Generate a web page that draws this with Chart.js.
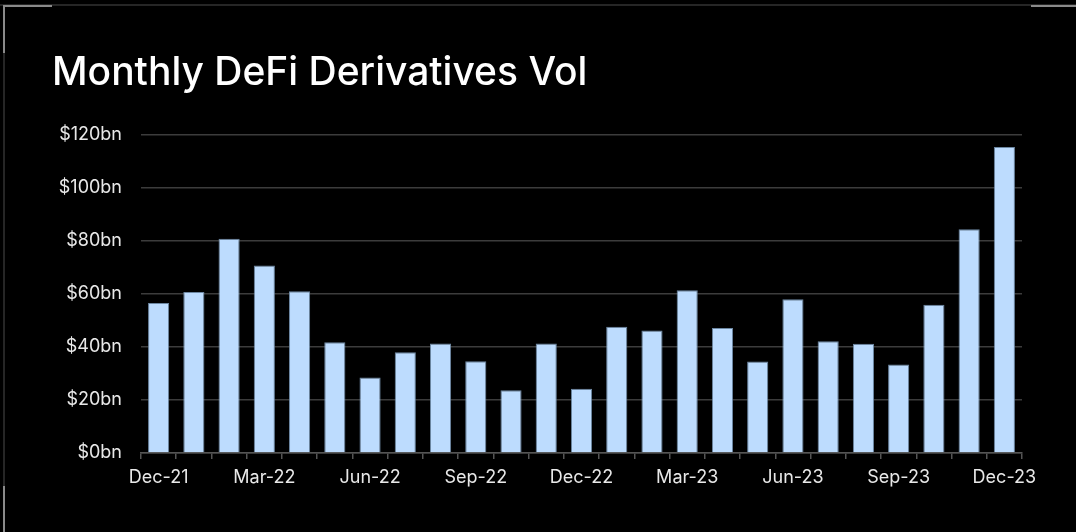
<!DOCTYPE html>
<html>
<head>
<meta charset="utf-8">
<script src="https://cdn.jsdelivr.net/npm/chart.js@4"></script>
<style>
  html, body { margin: 0; padding: 0; background: #000; }
  #wrap { width: 1076px; height: 532px; position: relative; }
</style>
</head>
<body>
<div id="wrap"><canvas id="bar-chart"></canvas></div>
<script>
var months = ['Dec-21', 'Jan-22', 'Feb-22', 'Mar-22', 'Apr-22', 'May-22', 'Jun-22', 'Jul-22',
    'Aug-22', 'Sep-22', 'Oct-22', 'Nov-22', 'Dec-22', 'Jan-23', 'Feb-23', 'Mar-23', 'Apr-23',
    'May-23', 'Jun-23', 'Jul-23', 'Aug-23', 'Sep-23', 'Oct-23', 'Nov-23', 'Dec-23']
var volume = [56.6, 60.7, 80.8, 70.7, 61.0, 41.8, 28.5, 38.0, 41.3, 34.6, 23.7, 41.3, 24.2,
    47.6, 46.2, 61.4, 47.1, 34.5, 58.0, 42.1, 41.2, 33.4, 55.9, 84.4, 115.4]
var yTicks = [0, 20, 40, 60, 80, 100, 120]

// frame lines round the panel
var framePlugin = {
    id: 'frame',
    beforeDraw: function(chart) {
        var ctx = chart.ctx
        ctx.save()
        ctx.fillStyle = '#000'
        ctx.fillRect(0, 0, chart.width, chart.height)
        ctx.fillStyle = '#262626'
        ctx.fillRect(0, 4, chart.width, 2)
        ctx.fillRect(3, 4, 2, chart.height)
        ctx.fillStyle = '#8a8a8a'
        ctx.fillRect(3, 5, 49, 2)
        ctx.fillRect(3, 5, 2, 48)
        ctx.fillRect(1031, 5, 45, 2)
        ctx.fillRect(3, 486, 2, 46)
        ctx.restore()
    }
}

new Chart(document.getElementById('bar-chart'), {
    type: 'bar',
    data: {
        labels: months,
        datasets: [{
            label: 'Volume',
            data: volume,
            backgroundColor: '#bddcfe',
            borderColor: 'rgba(120,150,180,0.9)',
            borderWidth: 1,
            barPercentage: 0.6,
            categoryPercentage: 1
        }]
    },
    options: {
        responsive: true,
        maintainAspectRatio: false,
        animation: false,
        layout: { padding: { top: 50, left: 52, right: 54, bottom: 19 } },
        plugins: {
            legend: { display: false },
            tooltip: { enabled: false },
            title: {
                display: true,
                text: 'Monthly DeFi Derivatives Vol',
                align: 'start',
                color: '#ffffff',
                font: { family: 'Inter', size: 39, weight: '500', lineHeight: 1.2 },
                padding: { top: 0, bottom: 38 }
            }
        },
        scales: {
            x: {
                grid: { offset: true, drawOnChartArea: false, drawTicks: true, tickLength: 6, color: '#555', lineWidth: 1.5 },
                border: { display: true, color: '#555', width: 1.5 },
                ticks: {
                    autoSkip: false,
                    maxRotation: 0,
                    padding: 8,
                    color: '#e8e8e8',
                    font: { family: 'Inter', size: 18 },
                    callback: function(val, i) { return i % 3 === 0 ? months[i] : '' }
                },
                afterFit: function(scale) { scale.height = 60 }
            },
            y: {
                min: 0,
                max: 120,
                afterBuildTicks: function(scale) { scale.ticks = yTicks.map(function(v) { return { value: v } }) },
                grid: { color: '#3c3c3c', lineWidth: 1.5, drawTicks: false },
                border: { display: false },
                ticks: {
                    padding: 19,
                    color: '#e8e8e8',
                    font: { family: 'Inter', size: 18 },
                    callback: function(v) { return '$' + v + 'bn' }
                },
                afterFit: function(scale) { scale.width = 89 }
            }
        }
    },
    plugins: [framePlugin]
});
</script>
</body>
</html>
